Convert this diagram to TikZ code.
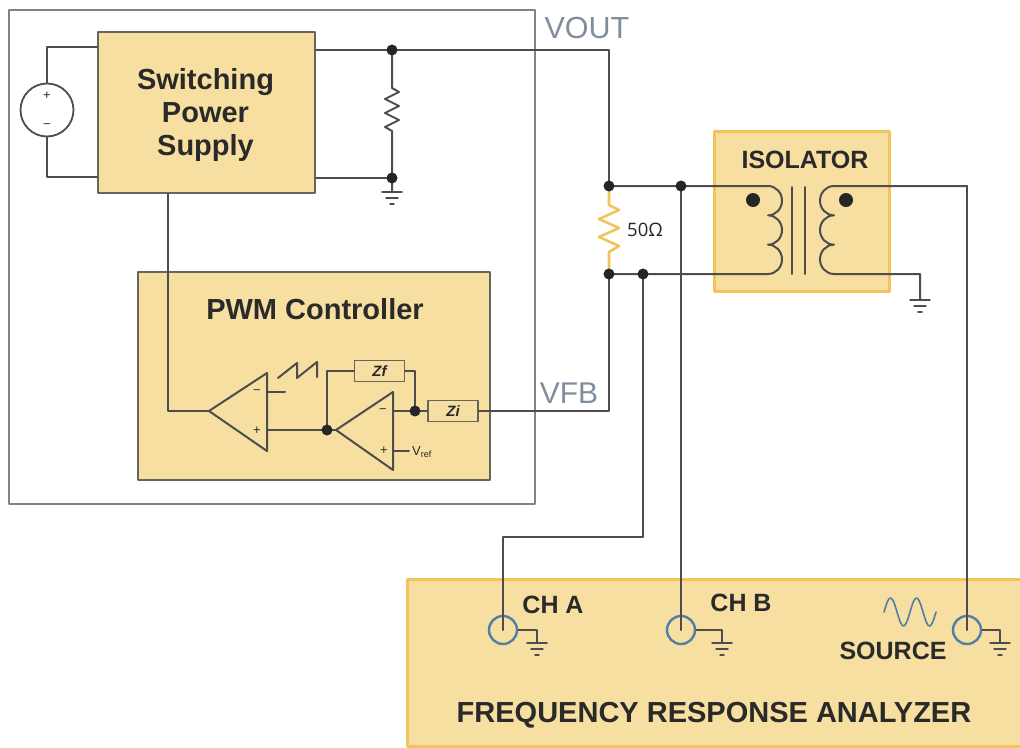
\documentclass[tikz,border=0pt]{standalone}
\usepackage{fontspec}
\setmainfont{Liberation Sans}
\newfontfamily\ohmfont{Open Sans}
\newcommand{\fsz}[1]{\fontsize{#1}{#1}\selectfont}
\definecolor{boxfill}{HTML}{F6DFA0}
\definecolor{boxgray}{HTML}{66645C}
\definecolor{boxgold}{HTML}{F0C459}
\definecolor{wirec}{HTML}{4D4D4D}
\definecolor{txtc}{HTML}{2A2A2A}
\definecolor{labc}{HTML}{7F8E9E}
\definecolor{portc}{HTML}{4F7FA8}
\tikzset{
	wire/.style={draw=wirec,line width=2pt},
	block/.style={draw=boxgray,fill=boxfill,line width=2pt,inner sep=0pt},
	goldblock/.style={draw=boxgold,fill=boxfill,line width=3pt,inner sep=0pt},
	imped/.style={draw=boxgray,line width=1.8pt,inner sep=0pt,minimum width=50pt,minimum height=21pt,text=txtc,font=\bfseries\itshape\fsz{15}},
	title/.style={text=txtc,inner sep=0pt,font=\bfseries\fsz{25}},
	bigtitle/.style={text=txtc,inner sep=0pt,align=center,font=\bfseries\fsz{29}},
	sign/.style={text=txtc,inner sep=0pt,font=\fsz{13}},
	port/.style={draw=portc,line width=2.4pt,circle,minimum size=28pt,inner sep=0pt},
	gnd/.pic={\draw[wire,line width=1.4pt] (-10,0)--(10,0) (-6,6)--(6,6) (-2,12)--(2,12);}
}
\begin{document}
\begin{tikzpicture}[scale=1, line join=round, line cap=round, x=1pt, y=-1pt]
	\useasboundingbox (0,0) rectangle (1020,747);
	\def \coilL{768};
	\def \coilR{834};
	% boxes
	\draw[draw=boxgray!80,line width=2pt] (9,10) rectangle (535,504);
	\node[block,minimum width=217pt,minimum height=161pt] (sps) at (206.5,112.5) {};
	\node[block,minimum width=352pt,minimum height=208pt] (pwm) at (314,376) {};
	\node[goldblock,minimum width=175pt,minimum height=160pt] (iso) at (801.5,211) {};
	\node[goldblock,minimum width=625pt,minimum height=167pt,anchor=north west] (fra) at (406,578) {};
	% named points
	\foreach \x/\y/\n in {392/50/vo,392/178/rtn,609/186/ja,609/274/jb,681/186/jc,643/274/jd,327/430/je,415/411/jf}{
		\coordinate (\n) at (\x,\y);}
	\foreach \x/\y/\n in {609/50/vc,609/411/fb,168/411/cin,47/47/sa,47/177/sb,643/537/ra,503/537/rb,967/186/sc,920/274/ga,327/371/za,415/371/zb}{
		\coordinate (\n) at (\x,\y);}
	\coordinate (cmp) at (209,411);
	\coordinate (amp) at (336,430);
	\node[draw=wirec,line width=1.8pt,circle,minimum size=53pt,inner sep=0pt] (src) at (47,110) {};
	\node[imped] (zf) at (379.5,371) {Zf};
	\node[imped] (zi) at (453,411) {Zi};
	\foreach \x/\n in {503/pa,681/pb,967/pc}{\node[port] (\n) at (\x,630) {};}
	% supply side
	\draw[wire] (sps.west |- sa) -- (sa) -- (src.north);
	\draw[wire] (src.south) -- (sb) -- (sps.west |- sb);
	\draw[wire] (sps.east |- vo) -- (vo) -- (vc) -- (ja);
	\draw[wire] (sps.east |- rtn) -- (rtn);
	\draw[wire] (vo) -- (392,88) -- (399,92) -- (385,99) -- (399,106) -- (385,113) -- (399,120) -- (385,127) -- (392,131) -- (rtn) -- (392,192);
	\draw[wire] (sps.south -| cin) -- (cin) -- (cmp);
	% amplifiers
	\draw[wire] (cmp) -- (267,373) -- (267,451) -- cycle;
	\draw[wire] (amp) -- (393,392) -- (393,470) -- cycle;
	\draw[wire] (267,392) -- (285,392);
	\draw[wire] (267,430) -- (je) -- (amp);
	\draw[wire] (278,378) -- (297,363) -- (297,378) -- (317,362) -- (317,377);
	\draw[wire] (je) -- (za) -- (zf.west);
	\draw[wire] (zf.east) -- (zb) -- (jf);
	\draw[wire] (393,411) -- (jf) -- (zi.west);
	\draw[wire] (zi.east) -- (fb) -- (jb);
	\draw[wire] (393,451) -- (409,451);
	% transformer
	\draw[wire] (ja) -- (\coilL,186) arc (90:-90:14pt and 14.667pt) arc (90:-90:14pt and 14.667pt) arc (90:-90:14pt and 14.667pt) -- (jb);
	\draw[wire] (sc) -- (\coilR,186) arc (90:270:14pt and 14.667pt) arc (90:270:14pt and 14.667pt) arc (90:270:14pt and 14.667pt) -- (ga) -- (920,300);
	\draw[wire] (792,187) -- (792,274) (805,187) -- (805,274);
	\draw[boxgold,line width=2.6pt] (ja) -- (609,205) -- (619,210) -- (599,219) -- (619,228) -- (599,237) -- (619,246) -- (609,252) -- (jb);
	% analyzer leads
	\draw[wire] (jc) -- (pb.center);
	\draw[wire] (jd) -- (ra) -- (rb) -- (pa.center);
	\draw[wire] (sc) -- (pc.center);
	\foreach \n/\x in {pa/537,pb/722,pc/1000}{
		\draw[wire,line width=1.4pt] (\n.east) -- (\x,630) -- (\x,642);
		\pic at (\x,643) {gnd};}
	\pic at (392,192) {gnd};
	\pic at (920,300) {gnd};
	\draw[portc,line width=1.6pt] plot[smooth,domain=0:52,samples=41] ({884+\x},{612-14*sin(\x/26*360)});
	% dots
	\foreach \n in {vo,rtn,ja,jb,jc,jd,je,jf}{\fill[black!85] (\n) circle(5.5pt);}
	\foreach \x/\y in {753/200,846/200}{\fill[black!85] (\x,\y) circle(7pt);}
	% labels
	\node[text=labc,inner sep=0pt,font=\fsz{30.5}] (vout) at (587,28) {VOUT};
	\node[text=labc,inner sep=0pt,font=\fsz{30}] (vfb) at (569,393) {VFB};
	\node[inner sep=0pt,text=black!85,font=\ohmfont\fsz{18.5}] (ohm) at (645,230) {50Ω};
	\node[bigtitle] (spst) at (205.5,114.5) {Switching\\[4pt]Power\\[4pt]Supply};
	\node[bigtitle] (pwmt) at (315,309) {PWM Controller};
	\node[title] (isot) at (805,160) {ISOLATOR};
	\node[title] (cha) at (553,605) {CH A};
	\node[title] (chb) at (741,603) {CH B};
	\node[title] (srct) at (893,651) {SOURCE};
	\node[bigtitle] (frat) at (714,715) {FREQUENCY RESPONSE ANALYZER};
	\node[sign,anchor=west] (vref) at (412,452) {V\textsubscript{ref}};
	\foreach \x/\y/\s/\n in {47/96/+/sp,47/126/−/sm,257/431/+/cp,257/392/−/cm,384/451/+/ap,383/411/−/am}{
		\node[sign] (\n) at (\x,\y) {\s};}
\end{tikzpicture}
\end{document}
